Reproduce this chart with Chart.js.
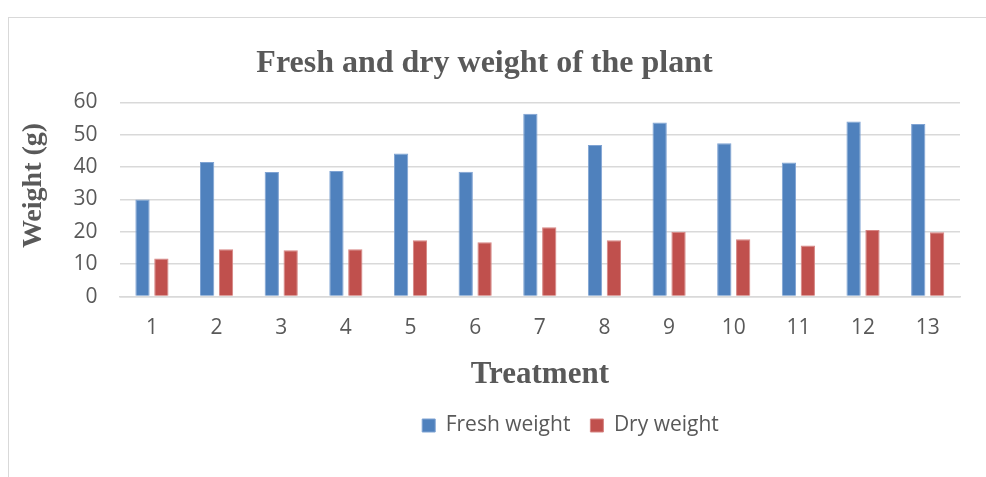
<!DOCTYPE html>
<html>
<head>
<meta charset="utf-8">
<script src="https://cdn.jsdelivr.net/npm/chart.js@4/dist/chart.umd.min.js"></script>
<style>
    html, body { margin: 0; padding: 0; background: #fff; overflow: hidden; }
    #frame {
        position: absolute; left: 8px; top: 17px; width: 1000px; height: 480px;
        border-left: 1px solid #d9d9d9; border-top: 1px solid #d9d9d9;
    }
    #wrap { position: absolute; left: 9px; top: 18px; width: 997px; height: 459px; }
</style>
</head>
<body>
<div id="frame"></div>
<div id="wrap"><canvas id="weightChart"></canvas></div>
<script>
const treatments = ['1', '2', '3', '4', '5', '6', '7', '8', '9', '10', '11', '12', '13'];
const freshWeight = [30.0, 41.6, 38.5, 38.8, 44.2, 38.6, 56.5, 46.8, 53.8, 47.4, 41.4, 54.1, 53.3];
const dryWeight = [11.8, 14.6, 14.3, 14.6, 17.4, 16.8, 21.4, 17.4, 20.0, 17.7, 15.8, 20.6, 19.9];
const yTicks = [0, 10, 20, 30, 40, 50, 60];

const textGrey = '#595959';
const serifFont = '"Liberation Serif", "Times New Roman", serif';
const sansFont = '"Open Sans", "Noto Sans", sans-serif';

// legend in the reference sits right of the canvas centre
const legendShift = {
    id: 'legendShift',
    afterLayout(chart) {
        chart.legend.left += 86;
        chart.legend.right += 86;
    }
};

document.addEventListener('DOMContentLoaded', () => {
    const ctx = document.getElementById('weightChart').getContext('2d');

    new Chart(ctx, {
        type: 'bar',
        data: {
            labels: treatments,
            datasets: [{
                label: 'Fresh weight',
                data: freshWeight,
                backgroundColor: '#4f81bd',
                borderColor: '#7fa3d3',
                borderWidth: 1,
                categoryPercentage: 0.584,
                barPercentage: 0.757
            }, {
                label: 'Dry weight',
                data: dryWeight,
                backgroundColor: '#c0504d',
                borderColor: '#d68583',
                borderWidth: 1,
                categoryPercentage: 0.584,
                barPercentage: 0.757
            }]
        },
        options: {
            responsive: true,
            maintainAspectRatio: false,
            animation: false,
            layout: { padding: { left: 0, right: 46, top: 0, bottom: 31 } },
            plugins: {
                title: {
                    display: true,
                    text: 'Fresh and dry weight of the plant',
                    color: textGrey,
                    font: { family: serifFont, size: 32, weight: 'bold' },
                    padding: { top: 27, bottom: 19 }
                },
                legend: {
                    position: 'bottom',
                    labels: {
                        color: textGrey,
                        font: { family: sansFont, size: 21 },
                        boxWidth: 13,
                        boxHeight: 13,
                        padding: 20
                    }
                },
                tooltip: { enabled: false }
            },
            scales: {
                x: {
                    grid: { display: false, drawTicks: false },
                    border: { color: '#d9d9d9', width: 1.5 },
                    ticks: {
                        color: textGrey,
                        font: { family: sansFont, size: 21 },
                        padding: 19
                    },
                    title: {
                        display: true,
                        text: 'Treatment',
                        color: textGrey,
                        font: { family: serifFont, size: 31, weight: 'bold' },
                        padding: { top: -3, bottom: 1 }
                    }
                },
                y: {
                    min: 0,
                    max: 60,
                    afterBuildTicks: axis => {
                        axis.ticks = yTicks.map(v => ({ value: v }));
                    },
                    grid: { color: '#d9d9d9', lineWidth: 1.5, drawTicks: false },
                    border: { display: false },
                    ticks: {
                        color: textGrey,
                        font: { family: sansFont, size: 21 },
                        padding: 22
                    },
                    title: {
                        display: true,
                        // leading spaces lift the rotated title a little, as in the reference
                        text: '    Weight (g)',
                        color: textGrey,
                        font: { family: serifFont, size: 28, weight: 'bold' },
                        padding: { top: 8, bottom: 1 }
                    }
                }
            }
        },
        plugins: [legendShift]
    });
});
</script>
</body>
</html>
